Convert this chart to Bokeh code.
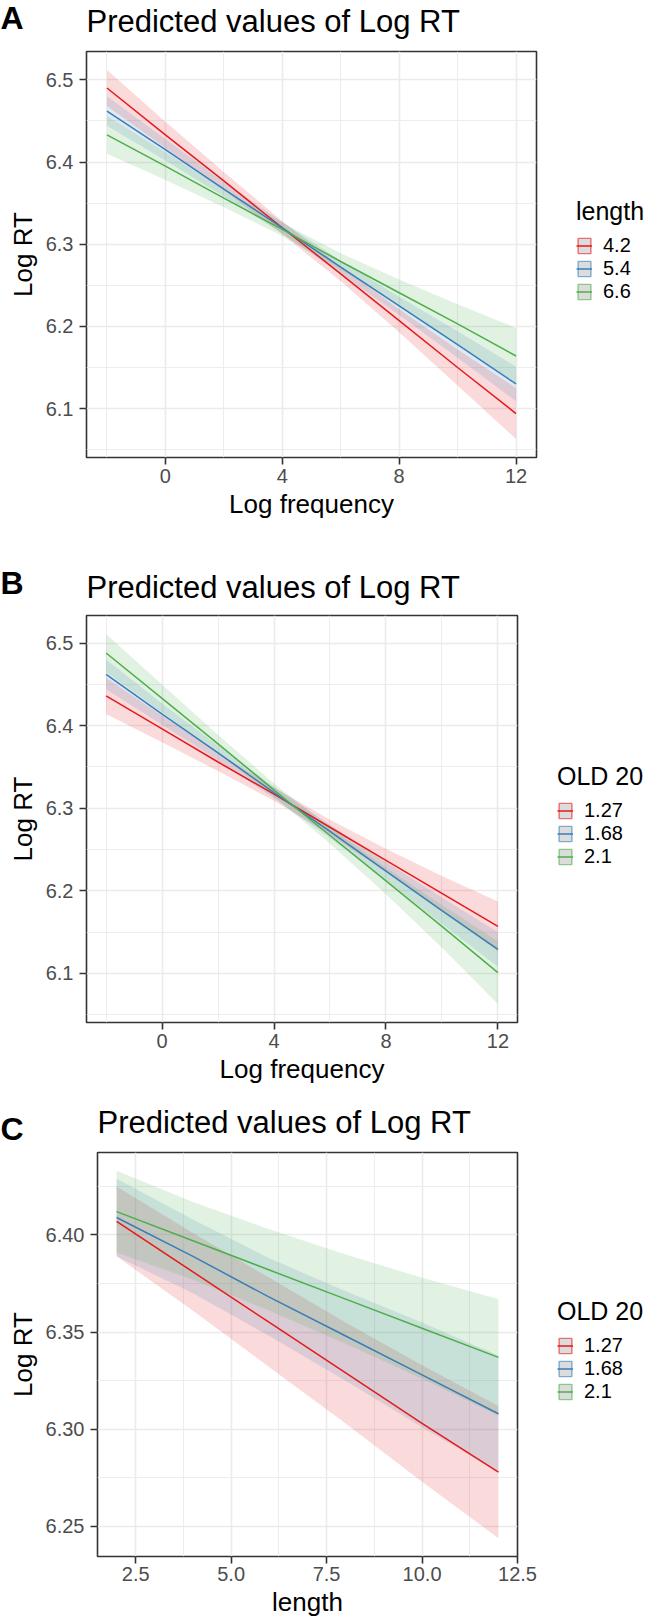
from bokeh.plotting import figure
from bokeh.models import Range1d, FixedTicker, Legend, LegendItem, Label
from bokeh.layouts import column
from bokeh.embed import file_html
from bokeh.resources import INLINE

FONT = "Liberation Sans"
SET1 = ["#E41A1C", "#377EB8", "#4DAF4A"]
PAGE_W = 645

# ---------------- Panel A : Log frequency, by length ----------------
a_x = [-2, 0, 2, 4, 6, 8, 10, 12]
a_groups = ["4.2", "5.4", "6.6"]
a_fit_42 = [6.490, 6.433, 6.377, 6.320, 6.264, 6.207, 6.150, 6.094]
a_lo_42 = [6.468, 6.417, 6.366, 6.312, 6.255, 6.193, 6.128, 6.063]
a_hi_42 = [6.512, 6.449, 6.388, 6.328, 6.273, 6.221, 6.172, 6.125]
a_fit_54 = [6.462, 6.415, 6.367, 6.320, 6.272, 6.225, 6.178, 6.130]
a_lo_54 = [6.444, 6.402, 6.358, 6.313, 6.264, 6.214, 6.162, 6.109]
a_hi_54 = [6.480, 6.428, 6.376, 6.327, 6.280, 6.236, 6.194, 6.151]
a_fit_66 = [6.433, 6.395, 6.356, 6.318, 6.279, 6.241, 6.203, 6.164]
a_lo_66 = [6.410, 6.378, 6.345, 6.310, 6.269, 6.225, 6.179, 6.130]
a_hi_66 = [6.456, 6.412, 6.367, 6.326, 6.289, 6.257, 6.227, 6.198]

# ---------------- Panel B : Log frequency, by OLD 20 ----------------
b_x = [-2, 0, 2, 4, 6, 8, 10, 12]
b_groups = ["1.27", "1.68", "2.1"]
b_fit_127 = [6.436, 6.396, 6.356, 6.317, 6.277, 6.237, 6.197, 6.157]
b_lo_127 = [6.414, 6.380, 6.345, 6.309, 6.268, 6.223, 6.176, 6.127]
b_hi_127 = [6.458, 6.412, 6.367, 6.325, 6.286, 6.251, 6.218, 6.187]
b_fit_168 = [6.462, 6.414, 6.367, 6.319, 6.272, 6.224, 6.176, 6.129]
b_lo_168 = [6.444, 6.401, 6.358, 6.312, 6.264, 6.213, 6.160, 6.108]
b_hi_168 = [6.480, 6.427, 6.376, 6.326, 6.280, 6.235, 6.192, 6.150]
b_fit_21 = [6.488, 6.433, 6.378, 6.322, 6.267, 6.212, 6.157, 6.101]
b_lo_21 = [6.465, 6.416, 6.367, 6.314, 6.257, 6.196, 6.131, 6.063]
b_hi_21 = [6.511, 6.450, 6.389, 6.330, 6.277, 6.228, 6.183, 6.139]

# ---------------- Panel C : length, by OLD 20 ----------------
c_x = [2, 4, 6, 8, 10, 12]
c_groups = ["1.27", "1.68", "2.1"]
c_fit_127 = [6.407, 6.381, 6.355, 6.329, 6.303, 6.278]
c_lo_127 = [6.389, 6.361, 6.332, 6.303, 6.273, 6.244]
c_hi_127 = [6.425, 6.401, 6.378, 6.355, 6.333, 6.312]
c_fit_168 = [6.409, 6.389, 6.368, 6.348, 6.328, 6.308]
c_lo_168 = [6.389, 6.370, 6.348, 6.325, 6.301, 6.278]
c_hi_168 = [6.429, 6.408, 6.388, 6.371, 6.355, 6.338]
c_fit_21 = [6.412, 6.397, 6.382, 6.367, 6.352, 6.337]
c_lo_21 = [6.391, 6.377, 6.361, 6.344, 6.326, 6.307]
c_hi_21 = [6.433, 6.417, 6.403, 6.390, 6.378, 6.367]

# ticks
freq_ticks = [0, 4, 8, 12]
freq_minor = [-2, 2, 6, 10]
freq_labels = ["0", "4", "8", "12"]
rt_ticks_ab = [6.1, 6.2, 6.3, 6.4, 6.5]
rt_minor_ab = [6.05, 6.15, 6.25, 6.35, 6.45]
rt_labels_ab = ["6.1", "6.2", "6.3", "6.4", "6.5"]
len_ticks = [2.5, 5.0, 7.5, 10.0, 12.5]
len_minor = [1.25, 3.75, 6.25, 8.75, 11.25]
len_labels = ["2.5", "5.0", "7.5", "10.0", "12.5"]
rt_ticks_c = [6.25, 6.30, 6.35, 6.40]
rt_minor_c = [6.225, 6.275, 6.325, 6.375, 6.425]
rt_labels_c = ["6.25", "6.30", "6.35", "6.40"]

TITLE = "Predicted values of Log RT"


def no_align(fig):
    try:
        fig.frame_align = False
    except Exception:
        pass


def make_header(letter, height, title_x, title_y, letter_y):
    h = figure(width=PAGE_W, height=height, min_border=0,
               x_range=Range1d(0, PAGE_W), y_range=Range1d(0, height),
               x_axis_type=None, y_axis_type=None,
               toolbar_location=None, tools="", output_backend="svg", title=None)
    no_align(h)
    h.outline_line_color = None
    h.background_fill_color = "white"
    h.border_fill_color = "white"
    h.add_layout(Label(x=title_x, y=title_y, x_units="screen", y_units="screen",
                       text=TITLE, text_font=FONT, text_font_size="31px",
                       text_color="black", text_align="left", text_baseline="middle"))
    h.add_layout(Label(x=0, y=letter_y, x_units="screen", y_units="screen",
                       text=letter, text_font=FONT, text_font_size="32px",
                       text_font_style="bold", text_color="black",
                       text_align="left", text_baseline="middle"))
    return h


def make_panel(xs, groups, fits, los, his, legend_title, x_title,
               xt, xm, xl, yt, ym, yl, lay):
    bl, fw, br, bt, fh, bb = lay["box"]
    xmin, xmax = min(xs), max(xs)
    xp = 0.05 * (xmax - xmin)
    ymin = min(min(l) for l in los)
    ymax = max(max(h) for h in his)
    yp = 0.05 * (ymax - ymin)
    p = figure(frame_width=fw, frame_height=fh,
               min_border_left=bl, min_border_right=br,
               min_border_top=bt, min_border_bottom=bb,
               x_range=Range1d(xmin - xp, xmax + xp),
               y_range=Range1d(ymin - yp, ymax + yp),
               toolbar_location=None, tools="", output_backend="svg",
               title=None)
    no_align(p)
    p.background_fill_color = "white"
    p.border_fill_color = "white"
    p.outline_line_color = "#333333"
    p.outline_line_width = 1.6

    xtick = FixedTicker(ticks=xt, minor_ticks=xm)
    ytick = FixedTicker(ticks=yt, minor_ticks=ym)
    p.xaxis.ticker = xtick
    p.yaxis.ticker = ytick
    p.xgrid.ticker = xtick
    p.ygrid.ticker = ytick
    p.xaxis.major_label_overrides = dict(zip(xt, xl))
    p.yaxis.major_label_overrides = dict(zip(yt, yl))
    for ax in (p.xaxis[0], p.yaxis[0]):
        ax.axis_line_color = None
        ax.major_tick_line_color = "#333333"
        ax.major_tick_line_width = 1.6
        ax.major_tick_in = 0
        ax.major_tick_out = 7
        ax.minor_tick_line_color = None
        ax.major_label_text_font = FONT
        ax.major_label_text_font_size = "20px"
        ax.major_label_text_color = "#4D4D4D"
        ax.axis_label_text_font = FONT
        ax.axis_label_text_font_size = "26px"
        ax.axis_label_text_font_style = "normal"
        ax.axis_label_text_color = "black"
    p.xaxis.axis_label = x_title
    p.yaxis.axis_label = "Log RT"
    p.xaxis.major_label_standoff = lay["xstand"][0]
    p.xaxis.axis_label_standoff = lay["xstand"][1]
    p.yaxis.major_label_standoff = 6
    p.yaxis.axis_label_standoff = 5
    for g in (p.xgrid[0], p.ygrid[0]):
        g.grid_line_color = "#EBEBEB"
        g.grid_line_width = 1.6
        g.minor_grid_line_color = "#EBEBEB"
        g.minor_grid_line_width = 0.9

    for c, lo, hi in zip(SET1, los, his):
        p.varea(x=xs, y1=lo, y2=hi, fill_color=c, fill_alpha=0.16)
    items = []
    for c, g, fit, lo, hi in zip(SET1, groups, fits, los, his):
        lr = p.line(xs, fit, line_color=c, line_width=1.5)
        # key box (hidden on the plot, only drawn in the legend)
        kr = p.quad(left=xs[:1], right=xs[:1], top=hi[:1], bottom=lo[:1],
                    fill_color="#DCDCDC", line_color=c, line_alpha=0.6,
                    line_width=1.4, visible=False)
        items.append(LegendItem(label=g, renderers=[kr, lr]))

    leg = Legend(items=items, location=lay["legend"], title=legend_title,
                 title_text_font=FONT, title_text_font_size="25px",
                 title_text_font_style="normal", title_text_color="black",
                 title_standoff=8,
                 label_text_font=FONT, label_text_font_size="20px",
                 label_text_color="black", label_standoff=11,
                 glyph_width=16, glyph_height=19, label_height=19,
                 spacing=-3, padding=0, margin=0,
                 inactive_fill_alpha=0,
                 border_line_color=None, background_fill_alpha=0)
    p.add_layout(leg, "right")
    return p


# headers: (letter, height, title x, title y, letter y) -- y measured from header bottom
ha = make_header("A", 50, 86, 29, 33)
hb = make_header("B", 69, 86, 27, 32)
hc = make_header("C", 59, 97, 29, 23)

# panel boxes: left border, frame width, right border, top border, frame height, bottom border
lay_a = dict(box=(86, 450, 109, 1, 406, 88), legend=(40, 154), xstand=(4, 3))
lay_b = dict(box=(86, 431, 128, 1, 407, 70), legend=(40, 154), xstand=(4, 3))
lay_c = dict(box=(97, 420, 128, 1, 404, 66), legend=(40, 153), xstand=(3, 3))

pa = make_panel(a_x, a_groups, [a_fit_42, a_fit_54, a_fit_66],
                [a_lo_42, a_lo_54, a_lo_66], [a_hi_42, a_hi_54, a_hi_66],
                "length", "Log frequency", freq_ticks, freq_minor, freq_labels,
                rt_ticks_ab, rt_minor_ab, rt_labels_ab, lay_a)
pb = make_panel(b_x, b_groups, [b_fit_127, b_fit_168, b_fit_21],
                [b_lo_127, b_lo_168, b_lo_21], [b_hi_127, b_hi_168, b_hi_21],
                "OLD 20", "Log frequency", freq_ticks, freq_minor, freq_labels,
                rt_ticks_ab, rt_minor_ab, rt_labels_ab, lay_b)
pc = make_panel(c_x, c_groups, [c_fit_127, c_fit_168, c_fit_21],
                [c_lo_127, c_lo_168, c_lo_21], [c_hi_127, c_hi_168, c_hi_21],
                "OLD 20", "length", len_ticks, len_minor, len_labels,
                rt_ticks_c, rt_minor_c, rt_labels_c, lay_c)

layout = column(ha, pa, hb, pb, hc, pc)
open("out.html", "w").write(file_html(layout, INLINE))
